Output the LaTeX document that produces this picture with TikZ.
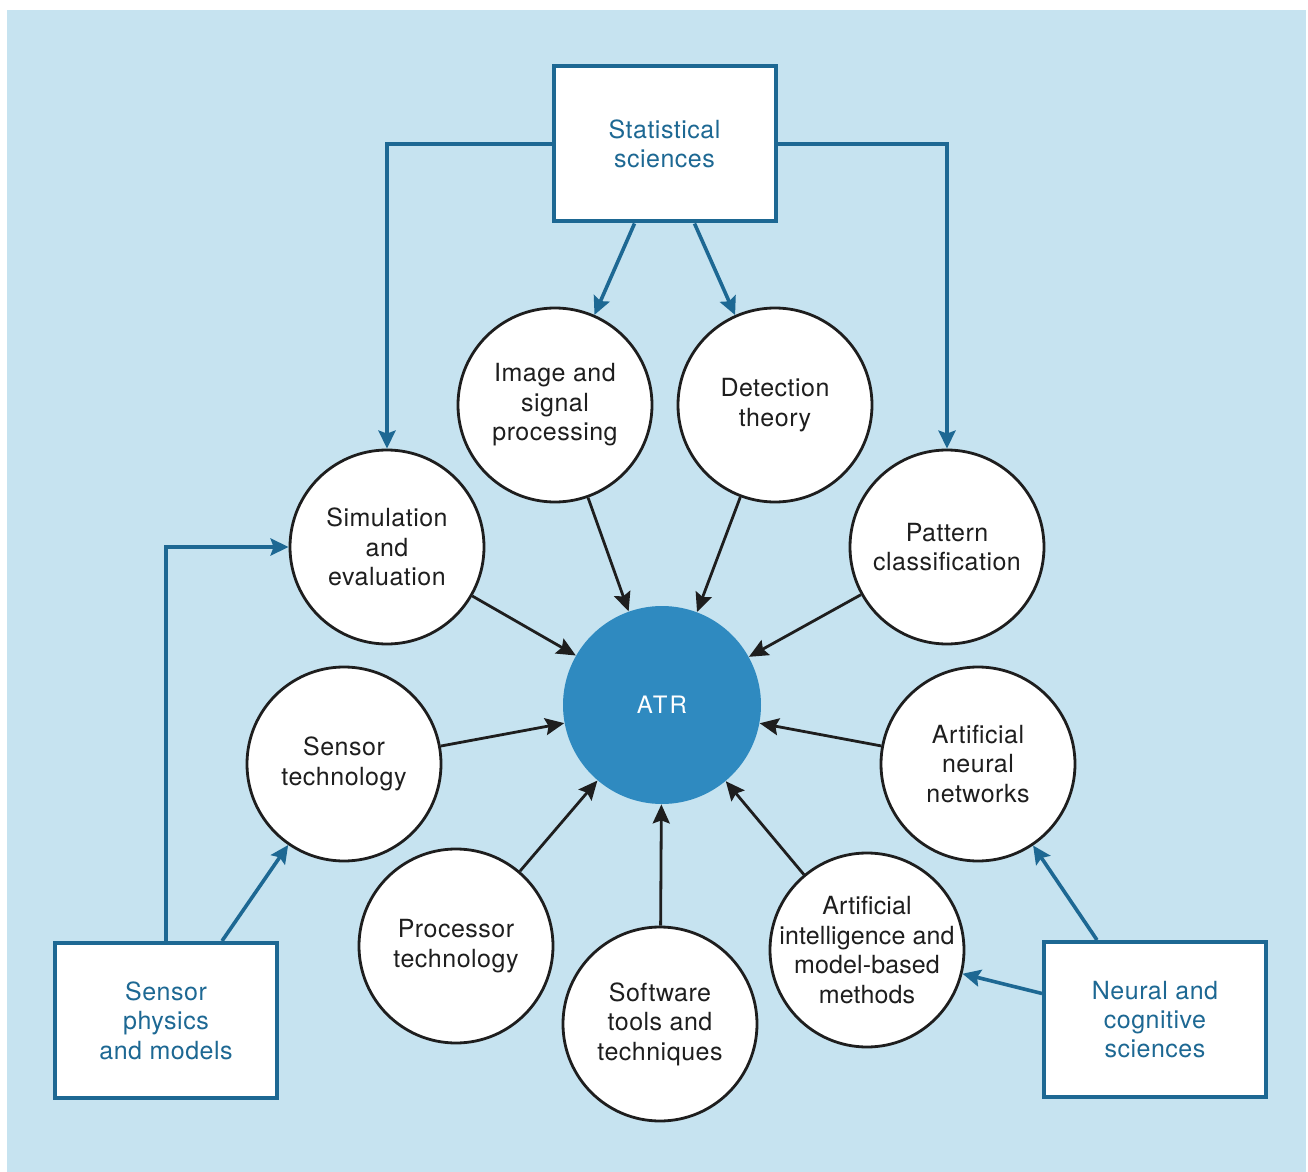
\documentclass[tikz,border=0pt]{standalone}
\usepackage{fontspec}
\setmainfont{TeX Gyre Heros}[LetterSpace=2]
\usetikzlibrary{arrows.meta}
\definecolor{bgblue}{HTML}{C6E3F0}
\definecolor{boxblue}{HTML}{1D6893}
\definecolor{atrblue}{HTML}{2F8AC0}
\definecolor{inkgray}{HTML}{1E1E1E}

\begin{document}
\begin{tikzpicture}[x=0.5pt,y=-0.5pt,
  font=\fontsize{12.5}{14.7}\selectfont,
  topic/.style={circle, draw=inkgray, line width=1.4pt, fill=white,
    minimum size=97pt, inner sep=0pt, align=center, text=inkgray},
  field/.style={rectangle, draw=boxblue, line width=2pt, fill=white,
    minimum width=111pt, minimum height=77.5pt, align=center, text=boxblue},
  bluearrow/.style={draw=boxblue, line width=1.8pt,
    -{Stealth[length=9pt,width=8.5pt,inset=1.5pt]}},
  blackarrow/.style={draw=inkgray, line width=1.4pt,
    -{Stealth[length=9.5pt,width=8.5pt,inset=1.5pt]}},
]
% page and panel
\fill[white] (0,0) rectangle (1308,1172);
\fill[bgblue] (7,10) rectangle (1306,1172);
\useasboundingbox (0,0) rectangle (1308,1172);

% source disciplines
\node[field] (stat)  at (664.5,144)  {Statistical\\sciences};
\node[field] (sphys) at (166,1020.5) {Sensor\\physics\\and models};
\node[field] (neur)  at (1155,1019.5){Neural and\\cognitive\\sciences};

% central topic
\node[circle, fill=atrblue, minimum size=99pt, inner sep=0pt, text=white,
      font=\fontsize{12}{14}\selectfont\addfontfeature{LetterSpace=9}]
      (atr) at (662,705) {ATR};

% contributing technologies
\node[topic] (img)  at (555,405)  {Image and\\signal\\processing};
\node[topic] (det)  at (775,405)  {Detection\\theory};
\node[topic] (sim)  at (387,547)  {Simulation\\and\\evaluation};
\node[topic] (pat)  at (947,547)  {Pattern\\classification};
\node[topic] (sen)  at (344,764)  {Sensor\\technology};
\node[topic] (ann)  at (978,764)  {Artificial\\neural\\networks};
\node[topic] (proc) at (456,946)  {Processor\\technology};
\node[topic] (soft) at (660,1024) {Software\\tools and\\techniques};
% four lines of text: a negative inner sep keeps the circle at its set size
\node[topic, inner sep=-7pt,
      font=\fontsize{12.5}{14.7}\selectfont\addfontfeature{LetterSpace=0.5}]
      (ai) at (867,950)
  {Artificial\\intelligence and\\model-based\\methods};

% links from disciplines
\draw[bluearrow] (stat.west) -| (sim);
\draw[bluearrow] (stat.east) -| (pat);
\draw[bluearrow] ([xshift=-15pt]stat.south) -- (img);
\draw[bluearrow] ([xshift=15pt]stat.south) -- (det);
\draw[bluearrow] (sphys.north) |- (sim);
\draw[bluearrow] ([xshift=28pt]sphys.north) -- (sen);
\draw[bluearrow] ([xshift=-29pt]neur.north) -- (ann);
\draw[bluearrow] ([yshift=13pt]neur.west) -- (ai);

% links into ATR
\foreach \t in {img,det,sim,pat,sen,ann,proc,soft,ai}
  \draw[blackarrow] (\t) -- (atr);
\end{tikzpicture}
\end{document}
